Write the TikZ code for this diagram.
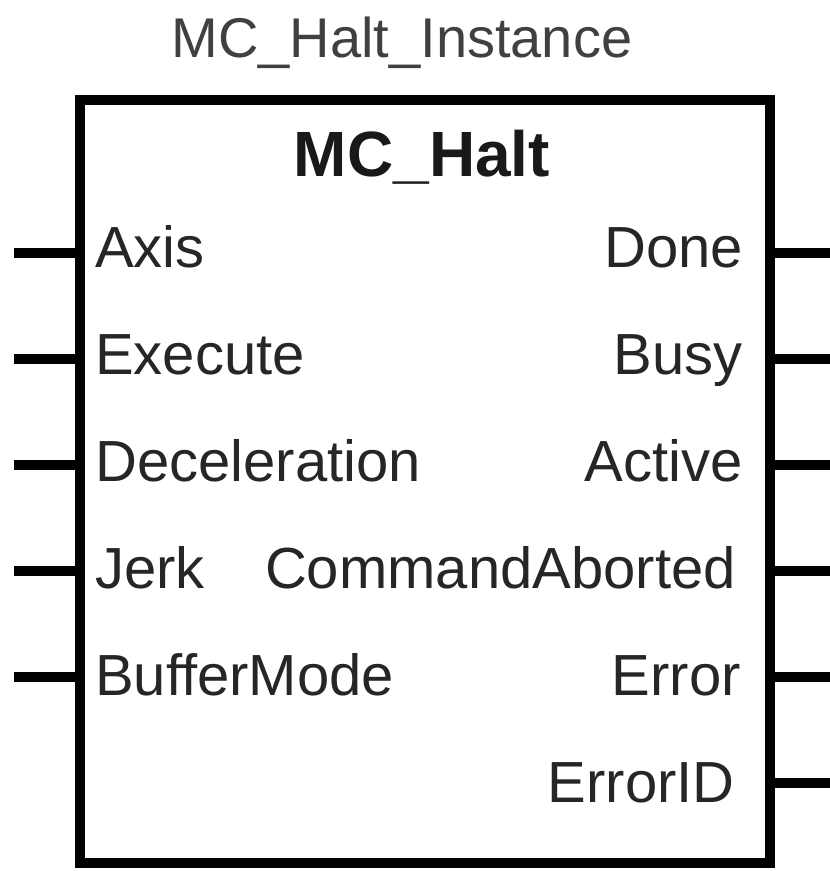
\documentclass[tikz,border=0pt]{standalone}
\usepackage{fontspec}
\setmainfont{Liberation Sans}
\begin{document}
\begin{tikzpicture}[x=1pt,y=1pt,
  pin/.style={line width=10pt,draw=black},
  lbl/.style={inner sep=0pt,font=\fontsize{58}{60}\selectfont,text=black!85},
  inlbl/.style={lbl,anchor=base west},
  outlbl/.style={lbl,anchor=base east}]
\useasboundingbox (0,0) rectangle (830,871);
\fill[white] (0,0) rectangle (830,871);
% block
\draw[line width=10pt] (80,8) rectangle (770,771);
% title
\node[inner sep=0pt,anchor=base,font=\fontsize{56}{58}\selectfont,text=black!75] (title) at (402,813) {MC\_Halt\_Instance};
\node[inner sep=0pt,anchor=base,font=\fontsize{64}{66}\selectfont\bfseries,text=black!90] (name) at (422,694) {MC\_Halt};
% inputs
\foreach \t [count=\i] in {Axis,Execute,Deceleration,Jerk,BufferMode}{
  \pgfmathsetmacro\yy{871-253-106*(\i-1)}
  \pgfmathsetmacro\yb{871-268-106.8*(\i-1)}
  \coordinate (in\i) at (14,\yy);
  \coordinate (inb\i) at (80,\yy);
  \draw[pin] (in\i) -- (inb\i);
  \node[inlbl] (inl\i) at (95,\yb) {\t};
}
% outputs
\foreach \t [count=\i] in {Done,Busy,Active,CommandAborted,Error,ErrorID}{
  \pgfmathsetmacro\yy{871-253-106*(\i-1)}
  \coordinate (out\i) at (830,\yy);
  \coordinate (outb\i) at (770,\yy);
  \draw[pin] (outb\i) -- (out\i);
}
\node[outlbl] (o1) at (743,871-268) {Done};
\node[outlbl] (o2) at (743,871-375) {Busy};
\node[outlbl] (o3) at (743,871-482) {Active};
\node[outlbl] (o4) at (736,871-589) {CommandAborted};
\node[outlbl] (o5) at (741,871-696) {Error};
\node[outlbl] (o6) at (735,871-803) {ErrorID};
\end{tikzpicture}
\end{document}
